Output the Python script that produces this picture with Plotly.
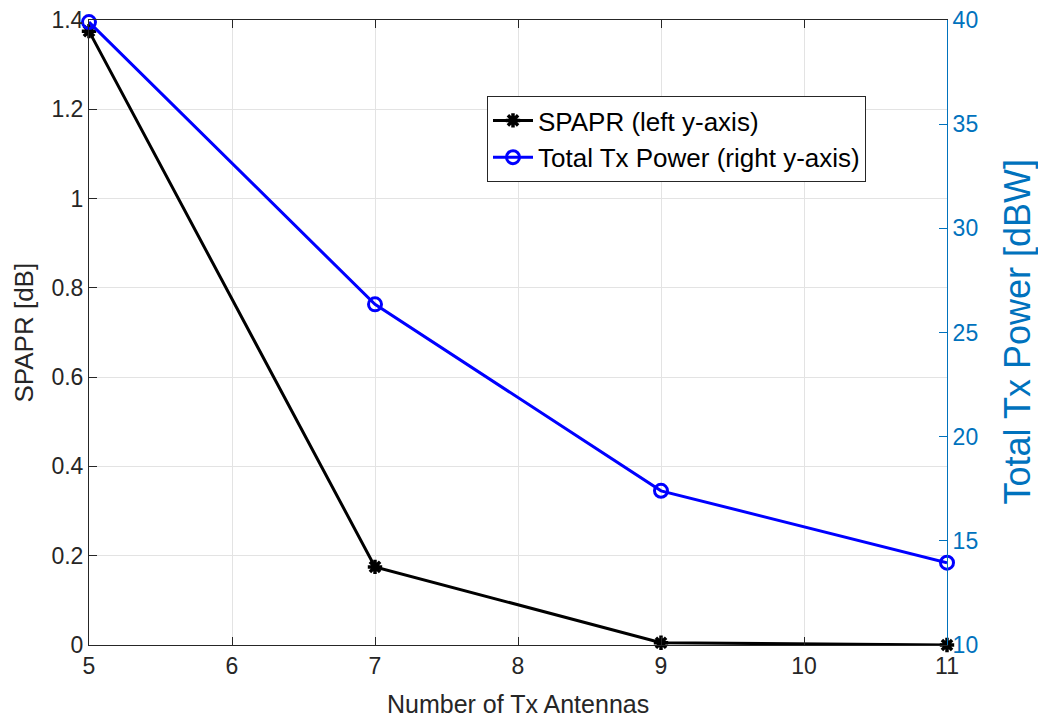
import plotly.graph_objects as go

antennas = [5, 7, 9, 11]
spapr_db = [1.375, 0.175, 0.005, 0.0]
tx_power_dbw = [39.9, 26.35, 17.4, 13.95]

x_ticks = [5, 6, 7, 8, 9, 10, 11]
left_ticks = [0, 0.2, 0.4, 0.6, 0.8, 1.0, 1.2, 1.4]
left_labels = ["0", "0.2", "0.4", "0.6", "0.8", "1", "1.2", "1.4"]
right_ticks = [10, 15, 20, 25, 30, 35, 40]

FONT = "Liberation Sans, Arial, sans-serif"
AXIS_DARK = "#262626"
RIGHT_BLUE = "#0072BD"

# plot area in pixels: x 89..947, y 20..645
PL, PR, PT, PB = 89, 947, 20, 645


def px_x(p):
    return (p - PL) / (PR - PL)


def px_y(p):
    return (PB - p) / (PB - PT)


fig = go.Figure()

fig.add_trace(go.Scatter(
    x=antennas, y=spapr_db, name="SPAPR (left y-axis)",
    mode="lines+markers",
    line=dict(color="black", width=3),
    marker=dict(symbol="asterisk-open", size=12, color="black",
                line=dict(color="black", width=3.5)),
    yaxis="y", cliponaxis=False,
))

fig.add_trace(go.Scatter(
    x=antennas, y=tx_power_dbw, name="Total Tx Power (right y-axis)",
    mode="lines+markers",
    line=dict(color="#0000FF", width=3),
    marker=dict(symbol="circle-open", size=13, color="#0000FF",
                line=dict(color="#0000FF", width=3)),
    yaxis="y2", cliponaxis=False,
))

fig.update_layout(
    width=1038, height=720,
    margin=dict(l=PL, r=1038 - PR, t=PT, b=720 - PB, autoexpand=False),
    paper_bgcolor="white", plot_bgcolor="white",
    font=dict(family=FONT, size=23, color=AXIS_DARK),
    showlegend=True,
    legend=dict(
        x=px_x(487), y=px_y(96), xanchor="left", yanchor="top",
        bgcolor="white", bordercolor="#262626", borderwidth=1,
        font=dict(size=26, color="black"),
        tracegroupgap=0, itemwidth=40,
    ),
    xaxis=dict(
        range=[5, 11], tickvals=x_ticks, automargin=False,
        showgrid=True, gridcolor="#e3e3e3", gridwidth=1,
        showline=True, linecolor=AXIS_DARK, linewidth=1, mirror="ticks",
        ticks="inside", ticklen=8, tickcolor=AXIS_DARK,
        zeroline=False, tickfont=dict(size=23, color=AXIS_DARK),
    ),
    yaxis=dict(
        range=[0, 1.4], tickvals=left_ticks, ticktext=left_labels, automargin=False,
        showgrid=True, gridcolor="#e3e3e3", gridwidth=1,
        showline=True, linecolor=AXIS_DARK, linewidth=1,
        ticks="inside", ticklen=8, tickcolor=AXIS_DARK,
        zeroline=False, tickfont=dict(size=23, color=AXIS_DARK),
    ),
    yaxis2=dict(
        range=[10, 40], tickvals=right_ticks, automargin=False,
        overlaying="y", side="right",
        showgrid=False,
        showline=True, linecolor=RIGHT_BLUE, linewidth=1,
        ticks="inside", ticklen=8, tickcolor=RIGHT_BLUE,
        zeroline=False, tickfont=dict(size=23, color=RIGHT_BLUE),
    ),
    annotations=[
        dict(text="Number of Tx Antennas", xref="paper", yref="paper",
             x=0.5, y=px_y(704), xanchor="center", yanchor="middle",
             showarrow=False, font=dict(size=25, color=AXIS_DARK)),
        dict(text="SPAPR [dB]", xref="paper", yref="paper",
             x=px_x(23), y=0.5, xanchor="center", yanchor="middle",
             textangle=-90, showarrow=False, font=dict(size=26, color=AXIS_DARK)),
        dict(text="Total Tx Power [dBW]", xref="paper", yref="paper",
             x=px_x(1017), y=0.5, xanchor="center", yanchor="middle",
             textangle=-90, showarrow=False, font=dict(size=36, color=RIGHT_BLUE)),
    ],
)

fig.write_html("out.html")
